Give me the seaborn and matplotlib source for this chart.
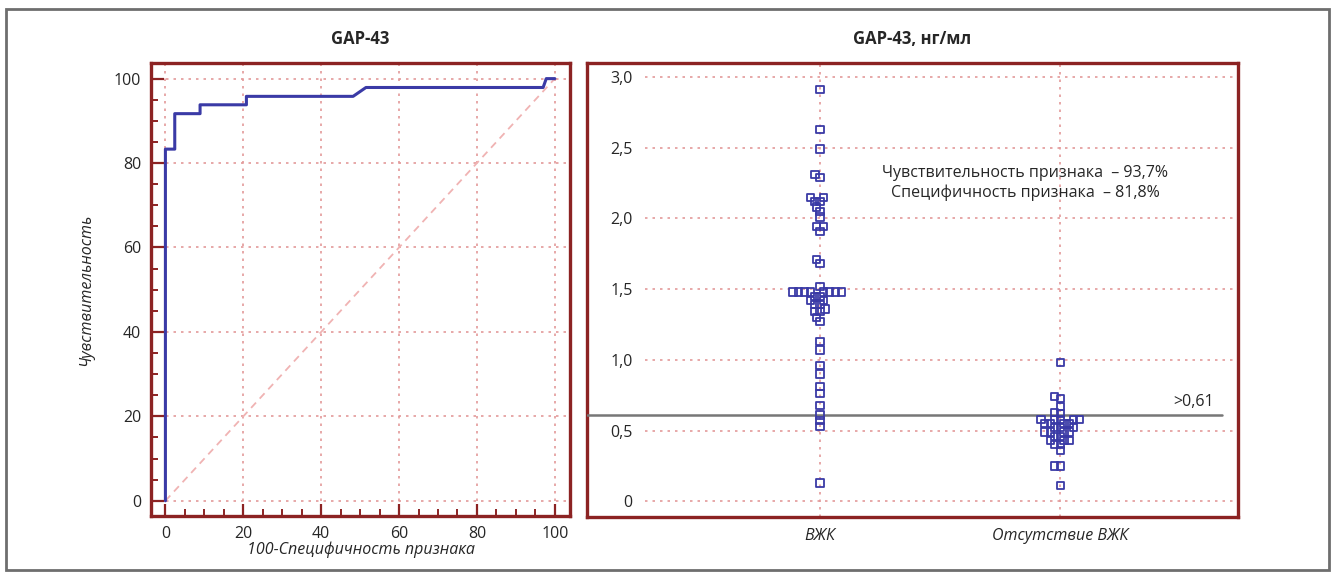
import numpy as np
import pandas as pd
import seaborn as sns
import matplotlib.pyplot as plt
from matplotlib.patches import Rectangle

# ROC curve points (100-specificity, sensitivity)
roc_fpr = [0, 0, 2.4, 2.4, 8.9, 8.9, 20.8, 20.8, 48.2, 51.5, 97.0, 97.8, 100]
roc_tpr = [0, 83.3, 83.3, 91.7, 91.7, 93.8, 93.8, 95.8, 95.8, 97.9, 97.9, 100, 100]

# GAP-43 values per group
ivh_values = [2.91, 2.63, 2.49, 2.31, 2.29, 2.15, 2.15, 2.12, 2.12, 2.08, 2.05, 2.01,
              1.94, 1.94, 1.91, 1.71, 1.68,
              1.52, 1.48, 1.48, 1.48, 1.48, 1.48, 1.48, 1.48, 1.48, 1.45, 1.45,
              1.42, 1.42, 1.39, 1.39, 1.36, 1.34, 1.34, 1.30, 1.27,
              1.13, 1.07, 0.96, 0.90, 0.81, 0.76, 0.68, 0.61, 0.57, 0.53, 0.13]
no_ivh_values = [0.98, 0.74, 0.73, 0.67, 0.63, 0.62,
                 0.58, 0.58, 0.58, 0.58, 0.58, 0.55, 0.55, 0.55, 0.55,
                 0.52, 0.52, 0.52, 0.49, 0.49, 0.49, 0.49, 0.46, 0.46,
                 0.43, 0.43, 0.43, 0.40, 0.40, 0.36, 0.25, 0.25, 0.11]
groups = ['ВЖК', 'Отсутствие ВЖК']
cutoff = 0.61

sns.set_style('white')
plt.rcParams['font.family'] = ['Open Sans', 'DejaVu Sans']

spine_col = '#8c2323'
grid_col = '#e39a9a'
blue = '#3a3aa6'

fig = plt.figure(figsize=(13.35, 5.77), dpi=100)
fig.patches.append(Rectangle((6 / 1335, 7 / 577), 1323 / 1335, 561 / 577,
                             transform=fig.transFigure, fill=False,
                             edgecolor='#6e6e6e', linewidth=2))

ax1 = fig.add_axes([151 / 1335, 1 - 516 / 577, 419 / 1335, 453 / 577])
ax2 = fig.add_axes([587 / 1335, 1 - 517 / 577, 651 / 1335, 454 / 577])

for ax in (ax1, ax2):
    for s in ax.spines.values():
        s.set_color(spine_col)
        s.set_linewidth(2.4)
        s.set_visible(True)

# ---- ROC plot ----
ax1.plot([0, 100], [0, 100], color='#f0b3b3', lw=1.3, ls=(0, (4, 3)), zorder=1)
roc = pd.DataFrame({'fpr': roc_fpr, 'tpr': roc_tpr})
sns.lineplot(data=roc, x='fpr', y='tpr', sort=False, estimator=None,
             color=blue, lw=2.2, ax=ax1, zorder=3)
ax1.set_xlim(-3.7, 103.9)
ax1.set_ylim(-3.6, 103.7)
ax1.set_xticks(range(0, 101, 20))
ax1.set_yticks(range(0, 101, 20))
ax1.set_xticks(range(0, 101, 5), minor=True)
ax1.set_yticks(range(0, 101, 5), minor=True)
ax1.tick_params(which='major', direction='in', length=9, width=1.6,
                color=spine_col, labelsize=11.5, pad=7)
ax1.tick_params(which='minor', direction='in', length=5, width=1.4,
                color=spine_col)
ax1.tick_params(axis='x', which='both', bottom=True)
ax1.tick_params(axis='y', which='both', left=True)
ax1.grid(True, which='major', color=grid_col, ls=(0, (1.5, 3)), lw=1.2)
ax1.set_xlabel('100-Специфичность признака', fontsize=11.5, style='italic', labelpad=0)
ax1.set_ylabel('Чувствительность', fontsize=11.5, style='italic', labelpad=14)
ax1.set_title('GAP-43', fontsize=12, fontweight='bold', pad=14)

# ---- dot plot ----
df = pd.DataFrame({
    'group': [groups[0]] * len(ivh_values) + [groups[1]] * len(no_ivh_values),
    'value': ivh_values + no_ivh_values,
})
sns.swarmplot(data=df, x='group', y='value', order=groups, marker='s',
              size=4.0, color=blue, ax=ax2, zorder=4)
ax2.set_xlim(-0.97, 1.74)
ax2.set_ylim(-0.11, 3.098)

# fix the swarm layout with tighter packing, then enlarge markers (points overlap as in the original)
fig.canvas.draw()
for coll in ax2.collections:
    if 'draw' in coll.__dict__:
        del coll.draw
    coll.set_sizes([5.2 ** 2])
    coll.set_facecolor('none')
    coll.set_edgecolor(blue)
    coll.set_linewidth(1.3)

yt = [0, 0.5, 1.0, 1.5, 2.0, 2.5, 3.0]
ax2.set_yticks(yt)
ax2.set_yticklabels(['0'] + [f'{v:.1f}'.replace('.', ',') for v in yt[1:]])
ax2.tick_params(axis='y', length=0, pad=-33, labelsize=11.5)
ax2.tick_params(axis='x', length=0, pad=8, labelsize=11.5)
for lab in ax2.get_xticklabels():
    lab.set_style('italic')
for v in yt:
    ax2.axhline(v, xmin=0.089, xmax=1, color=grid_col, ls=(0, (1.5, 3)), lw=1.2, zorder=1)
for i in range(len(groups)):
    ax2.axvline(i, color=grid_col, ls=(0, (1.5, 3)), lw=1.2, zorder=1)
ax2.axhline(cutoff, color='#777777', lw=1.8, xmin=0.0, xmax=0.975, zorder=3)
ax2.text(1.64, cutoff + 0.035, '>0,61', ha='right', va='bottom', fontsize=11.5)
ax2.text(0.855, 2.25, 'Чувствительность признака  – 93,7%\nСпецифичность признака  – 81,8%',
         ha='center', va='center', fontsize=11.5, linespacing=1.3)
ax2.set_xlabel('')
ax2.set_ylabel('')
ax2.set_title('GAP-43, нг/мл', fontsize=12, fontweight='bold', pad=14)

fig.savefig('out.png', dpi=100, facecolor='white')
